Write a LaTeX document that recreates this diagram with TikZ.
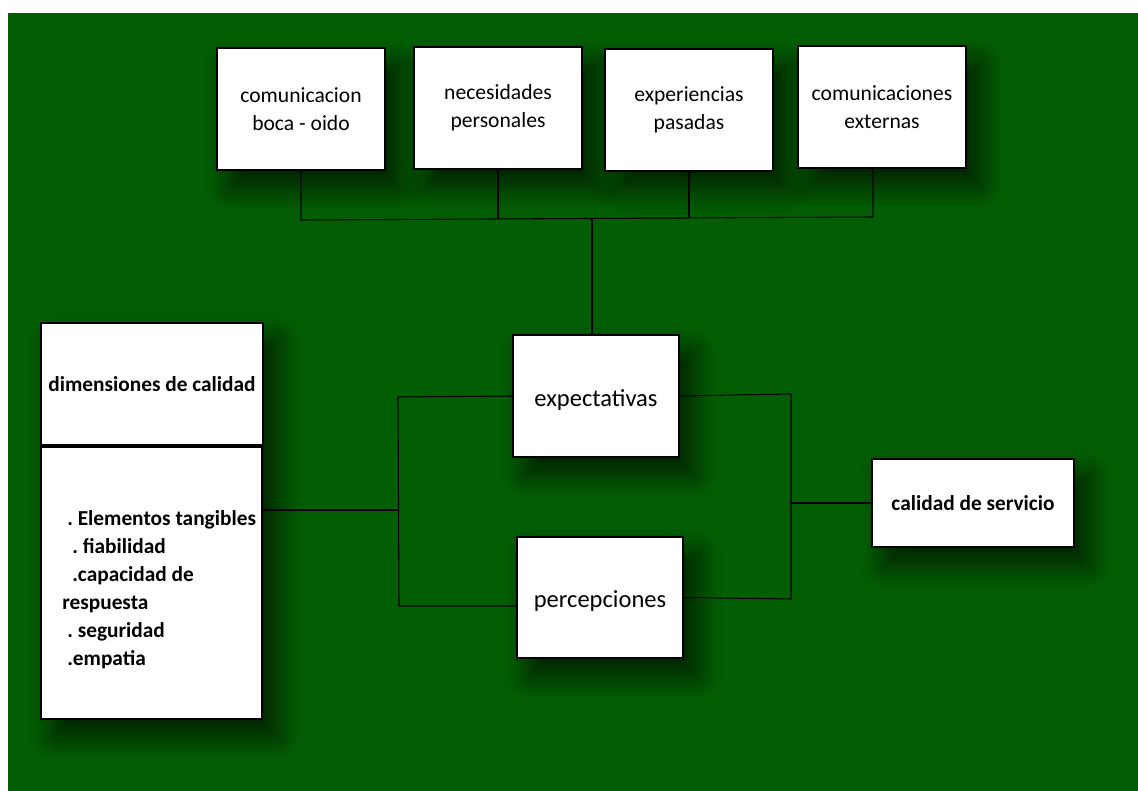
\documentclass[tikz,border=0pt]{standalone}
\usepackage{fontspec}
\setmainfont{Carlito}
\usetikzlibrary{shadows.blur}
\definecolor{bggreen}{RGB}{3,94,3}
\frenchspacing
\begin{document}
\begin{tikzpicture}[x=0.75pt,y=-0.75pt,
  softshadow/.style={blur shadow={shadow xshift=10pt, shadow yshift=-13pt,
      shadow blur radius=18pt, shadow blur steps=14, shadow opacity=70}},
  plainbox/.style={draw=black, line width=1.3pt, fill=white, inner sep=0pt, align=center},
  box/.style={plainbox, softshadow},
  sized/.style 2 args={minimum width={#1*0.75pt}, minimum height={#2*0.75pt}},
  toptext/.style={font=\fontsize{16.2}{21}\selectfont},
  midtext/.style={font=\fontsize{18.4}{22}\selectfont, text height=18pt, text depth=3pt},
  boldtext/.style={font=\fontsize{16}{21}\selectfont\bfseries},
  link/.style={draw=black, line width=0.8pt}
]
% page and background
\fill[white] (0,0) rectangle (1138,791);
\fill[bggreen] (8,13) rectangle (1138,791);

% top row of factors
\node[box, sized={168}{122}, toptext] (b1) at (301,109) {comunicacion\\boca - oido};
\node[box, sized={168}{122}, toptext] (b2) at (498,108) {necesidades\\personales};
\node[box, sized={168}{122}, toptext] (b3) at (689,110) {experiencias\\pasadas};
\node[box, sized={168}{122}, toptext] (b4) at (882,107) {comunicaciones\\externas};

% centre
\node[box, sized={166}{122}, midtext] (exp) at (596,396) {expectativas};
\node[box, sized={166}{121}, midtext] (perc) at (600,597.5) {percepciones};

% result
\node[box, sized={202}{88}, boldtext] (cal) at (973,503) {calidad de servicio};

% quality dimensions: one shadow under the stacked pair
\path[softshadow] (41,323) rectangle (263,719);
\node[plainbox, sized={222}{122}, boldtext] (dim) at (152,384) {dimensiones de calidad};
\node[plainbox, sized={221}{272}] (list) at (151.5,583) {};
\node[boldtext, align=left, anchor=north west, inner sep=0pt] (items) at (44,510)
  {\hspace*{17.25pt}. Elementos tangibles\\
   \hspace*{21pt}. fiabilidad\\
   \hspace*{21pt}.capacidad de\\
   \hspace*{13.5pt}respuesta\\
   \hspace*{17.25pt}. seguridad\\
   \hspace*{17.25pt}.empatia};

% junction points
\coordinate (busL) at (301,220);
\coordinate (busR) at (873,217);
\coordinate (busM) at (592,218.5);
\coordinate (lt) at (398,397);
\coordinate (lb) at (399,606);
\coordinate (lm) at (398,510);
\coordinate (rt) at (791,394);
\coordinate (rb) at (791,599);
\coordinate (rm) at (791,503);

% top bus
\draw[link] (b1.south) -- (busL) -- (busR) -- (busR |- b4.south);
\draw[link] (b2.south) -- (b2.south |- busM);
\draw[link] (b3.south) -- (b3.south |- busM);
\draw[link] (busM) -- (busM |- exp.north);

% left bracket
\draw[link] (exp.west) -- (lt) -- (lb) -- (lb -| perc.west);
\draw[link] (lm -| list.east) -- (lm);

% right bracket
\draw[link] (exp.east) -- (rt) -- (rb) -- (perc.east);
\draw[link] (rm) -- (cal.west);
\end{tikzpicture}
\end{document}
